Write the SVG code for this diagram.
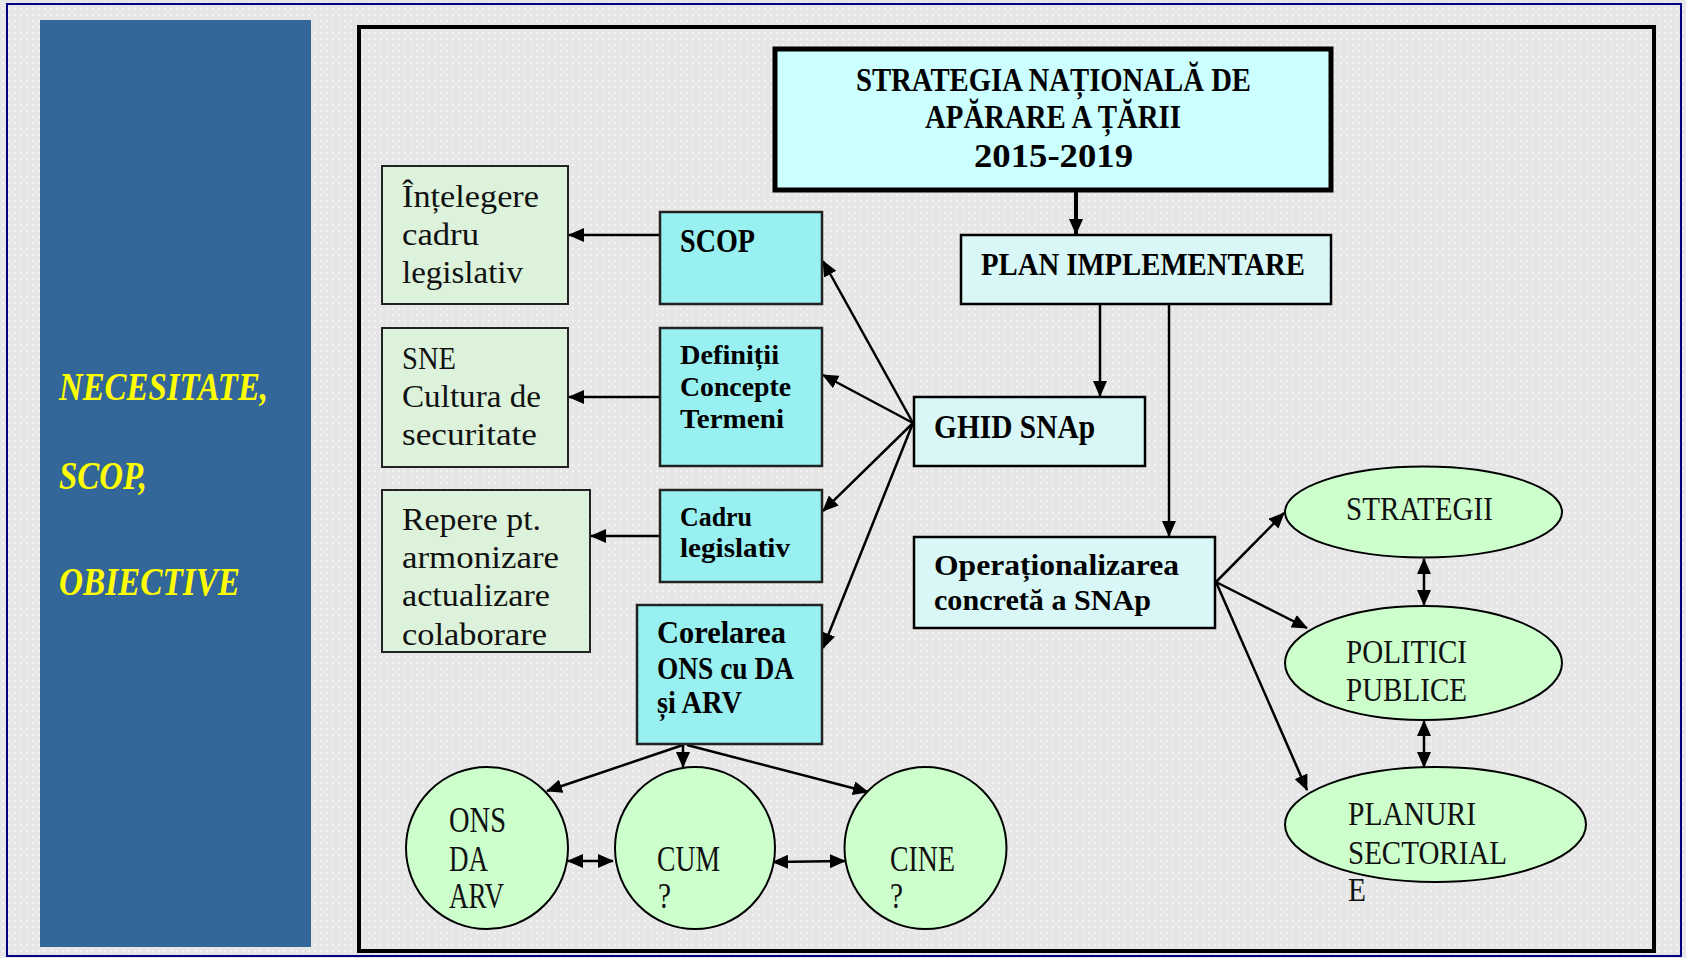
<svg xmlns="http://www.w3.org/2000/svg" width="1686" height="958" viewBox="0 0 1686 958">
<defs>
<pattern id="dots" width="6" height="6" patternUnits="userSpaceOnUse">
<rect width="6" height="6" fill="#e6e6e6"/>
<circle cx="3" cy="3" r="1" fill="#f6f6f6"/>
</pattern>
<marker id="ah" viewBox="0 0 16 14" refX="15" refY="7" markerWidth="16" markerHeight="14" markerUnits="userSpaceOnUse" orient="auto-start-reverse">
<path d="M0,0 L16,7 L0,14 z" fill="#000"/>
</marker>
</defs>
<style>
.b{font-family:"Liberation Serif",serif;font-weight:bold;fill:#000}
.r{font-family:"Liberation Serif",serif;fill:#111}
.y{font-family:"Liberation Serif",serif;font-weight:bold;font-style:italic;fill:#ffff00;font-size:40px}
.c{stroke:#000;stroke-width:2.5;fill:none;marker-end:url(#ah)}
.d{stroke:#000;stroke-width:2.5;fill:none;marker-start:url(#ah);marker-end:url(#ah)}
.top{fill:#ccffff;stroke:#000;stroke-width:5}
.lc{fill:#d9f7f7;stroke:#000;stroke-width:2.5}
.mc{fill:#98f0f0;stroke:#222;stroke-width:2.5}
.gr{fill:#dcf2da;stroke:#222;stroke-width:2}
.el{fill:#ccffcc;stroke:#000;stroke-width:2}
</style>
<rect x="0" y="0" width="1686" height="958" fill="url(#dots)"/>
<rect x="7" y="4" width="1674" height="952" fill="none" stroke="#000080" stroke-width="2"/>
<g id="side-panel">
<rect x="40" y="20" width="271" height="927" fill="#336699"/>
<text class="y" x="59" y="400" textLength="209" lengthAdjust="spacingAndGlyphs">NECESITATE,</text>
<text class="y" x="59" y="489" textLength="88" lengthAdjust="spacingAndGlyphs">SCOP,</text>
<text class="y" x="59" y="595" textLength="181" lengthAdjust="spacingAndGlyphs">OBIECTIVE</text>
</g>
<rect x="359" y="27" width="1295" height="924" fill="url(#dots)" stroke="#000" stroke-width="4"/>
<g id="connectors">
<line x1="1076" y1="190" x2="1076" y2="234" stroke="#000" stroke-width="4" marker-end="url(#ah)"/>
<line class="c" x1="1100" y1="304" x2="1100" y2="396"/>
<line class="c" x1="1169" y1="304" x2="1169" y2="536"/>
<line class="c" x1="913" y1="423" x2="823" y2="261"/>
<line class="c" x1="913" y1="423" x2="823" y2="375"/>
<line class="c" x1="913" y1="423" x2="823" y2="511"/>
<line class="c" x1="913" y1="423" x2="823" y2="648"/>
<line class="c" x1="659" y1="235" x2="569" y2="235"/>
<line class="c" x1="659" y1="397" x2="569" y2="397"/>
<line class="c" x1="659" y1="536" x2="591" y2="536"/>
<line class="c" x1="683" y1="745" x2="547" y2="791"/>
<line class="c" x1="683" y1="745" x2="683" y2="767"/>
<line class="c" x1="687" y1="745" x2="868" y2="792"/>
<line class="d" x1="568" y1="861" x2="613" y2="861"/>
<line class="d" x1="773" y1="862" x2="845" y2="861"/>
<line class="c" x1="1216" y1="582" x2="1284" y2="513"/>
<line class="c" x1="1216" y1="582" x2="1307" y2="628"/>
<line class="c" x1="1216" y1="582" x2="1307" y2="790"/>
<line class="d" x1="1424" y1="559" x2="1424" y2="605"/>
<line class="d" x1="1424" y1="721" x2="1424" y2="767"/>
</g>
<g id="strategia">
<rect class="top" x="775" y="49" width="556" height="141"/>
<text class="b" font-size="33" x="856" y="91" textLength="395" lengthAdjust="spacingAndGlyphs">STRATEGIA NAȚIONALĂ DE</text>
<text class="b" font-size="33" x="925" y="128" textLength="256" lengthAdjust="spacingAndGlyphs">APĂRARE A ȚĂRII</text>
<text class="b" font-size="33" x="974" y="167" textLength="159" lengthAdjust="spacingAndGlyphs">2015-2019</text>
</g>
<g id="plan">
<rect class="lc" x="961" y="235" width="370" height="69"/>
<text class="b" font-size="32" x="981" y="275" textLength="324" lengthAdjust="spacingAndGlyphs">PLAN IMPLEMENTARE</text>
</g>
<g id="ghid">
<rect class="lc" x="914" y="397" width="231" height="69"/>
<text class="b" font-size="33" x="934" y="438" textLength="161" lengthAdjust="spacingAndGlyphs">GHID SNAp</text>
</g>
<g id="operationalizarea">
<rect class="lc" x="914" y="537" width="301" height="91"/>
<text class="b" font-size="30" x="934" y="575" textLength="245" lengthAdjust="spacingAndGlyphs">Operaționalizarea</text>
<text class="b" font-size="30" x="934" y="610" textLength="217" lengthAdjust="spacingAndGlyphs">concretă a SNAp</text>
</g>
<g id="scop">
<rect class="mc" x="660" y="212" width="162" height="92"/>
<text class="b" font-size="33" x="680" y="252" textLength="75" lengthAdjust="spacingAndGlyphs">SCOP</text>
</g>
<g id="definitii">
<rect class="mc" x="660" y="328" width="162" height="138"/>
<text class="b" font-size="27" x="680" y="364" textLength="99" lengthAdjust="spacingAndGlyphs">Definiții</text>
<text class="b" font-size="27" x="680" y="396" textLength="111" lengthAdjust="spacingAndGlyphs">Concepte</text>
<text class="b" font-size="27" x="680" y="428" textLength="104" lengthAdjust="spacingAndGlyphs">Termeni</text>
</g>
<g id="cadru">
<rect class="mc" x="660" y="490" width="162" height="92"/>
<text class="b" font-size="28" x="680" y="526" textLength="72" lengthAdjust="spacingAndGlyphs">Cadru</text>
<text class="b" font-size="28" x="680" y="557" textLength="110" lengthAdjust="spacingAndGlyphs">legislativ</text>
</g>
<g id="corelarea">
<rect class="mc" x="637" y="605" width="185" height="139"/>
<text class="b" font-size="31" x="657" y="643" textLength="129" lengthAdjust="spacingAndGlyphs">Corelarea</text>
<text class="b" font-size="31" x="657" y="679" textLength="137" lengthAdjust="spacingAndGlyphs">ONS cu DA</text>
<text class="b" font-size="31" x="657" y="713" textLength="85" lengthAdjust="spacingAndGlyphs">și ARV</text>
</g>
<g id="intelegere">
<rect class="gr" x="382" y="166" width="186" height="138"/>
<text class="r" font-size="32" x="402" y="207" textLength="137" lengthAdjust="spacingAndGlyphs">Înțelegere</text>
<text class="r" font-size="32" x="402" y="245" textLength="77" lengthAdjust="spacingAndGlyphs">cadru</text>
<text class="r" font-size="32" x="402" y="283" textLength="121" lengthAdjust="spacingAndGlyphs">legislativ</text>
</g>
<g id="sne">
<rect class="gr" x="382" y="328" width="186" height="139"/>
<text class="r" font-size="32" x="402" y="369" textLength="54" lengthAdjust="spacingAndGlyphs">SNE</text>
<text class="r" font-size="32" x="402" y="407" textLength="139" lengthAdjust="spacingAndGlyphs">Cultura de</text>
<text class="r" font-size="32" x="402" y="445" textLength="135" lengthAdjust="spacingAndGlyphs">securitate</text>
</g>
<g id="repere">
<rect class="gr" x="382" y="490" width="208" height="162"/>
<text class="r" font-size="32" x="402" y="530" textLength="139" lengthAdjust="spacingAndGlyphs">Repere pt.</text>
<text class="r" font-size="32" x="402" y="568" textLength="157" lengthAdjust="spacingAndGlyphs">armonizare</text>
<text class="r" font-size="32" x="402" y="606" textLength="148" lengthAdjust="spacingAndGlyphs">actualizare</text>
<text class="r" font-size="32" x="402" y="645" textLength="145" lengthAdjust="spacingAndGlyphs">colaborare</text>
</g>
<g id="strategii">
<ellipse class="el" cx="1423.5" cy="512" rx="138.5" ry="45.5"/>
<text class="r" font-size="34" x="1346" y="520" textLength="147" lengthAdjust="spacingAndGlyphs">STRATEGII</text>
</g>
<g id="politici">
<ellipse class="el" cx="1423.5" cy="663" rx="138.5" ry="57"/>
<text class="r" font-size="34" x="1346" y="663" textLength="121" lengthAdjust="spacingAndGlyphs">POLITICI</text>
<text class="r" font-size="34" x="1346" y="701" textLength="121" lengthAdjust="spacingAndGlyphs">PUBLICE</text>
</g>
<g id="planuri">
<ellipse class="el" cx="1435.5" cy="824.5" rx="150.5" ry="57.5"/>
<text class="r" font-size="34" x="1348" y="825" textLength="128" lengthAdjust="spacingAndGlyphs">PLANURI</text>
<text class="r" font-size="34" x="1348" y="864" textLength="159" lengthAdjust="spacingAndGlyphs">SECTORIAL</text>
<text class="r" font-size="34" x="1348" y="901" textLength="18" lengthAdjust="spacingAndGlyphs">E</text>
</g>
<g id="ons">
<ellipse class="el" cx="487" cy="848" rx="81" ry="81"/>
<text class="r" font-size="36" x="449" y="832" textLength="57" lengthAdjust="spacingAndGlyphs">ONS</text>
<text class="r" font-size="36" x="449" y="871" textLength="39" lengthAdjust="spacingAndGlyphs">DA</text>
<text class="r" font-size="36" x="449" y="908" textLength="55" lengthAdjust="spacingAndGlyphs">ARV</text>
</g>
<g id="cum">
<ellipse class="el" cx="695" cy="848" rx="80" ry="81"/>
<text class="r" font-size="36" x="657" y="871" textLength="63" lengthAdjust="spacingAndGlyphs">CUM</text>
<text class="r" font-size="36" x="658" y="908" textLength="13" lengthAdjust="spacingAndGlyphs">?</text>
</g>
<g id="cine">
<ellipse class="el" cx="925.5" cy="848" rx="81" ry="81"/>
<text class="r" font-size="36" x="890" y="871" textLength="65" lengthAdjust="spacingAndGlyphs">CINE</text>
<text class="r" font-size="36" x="890" y="908" textLength="13" lengthAdjust="spacingAndGlyphs">?</text>
</g>
</svg>
